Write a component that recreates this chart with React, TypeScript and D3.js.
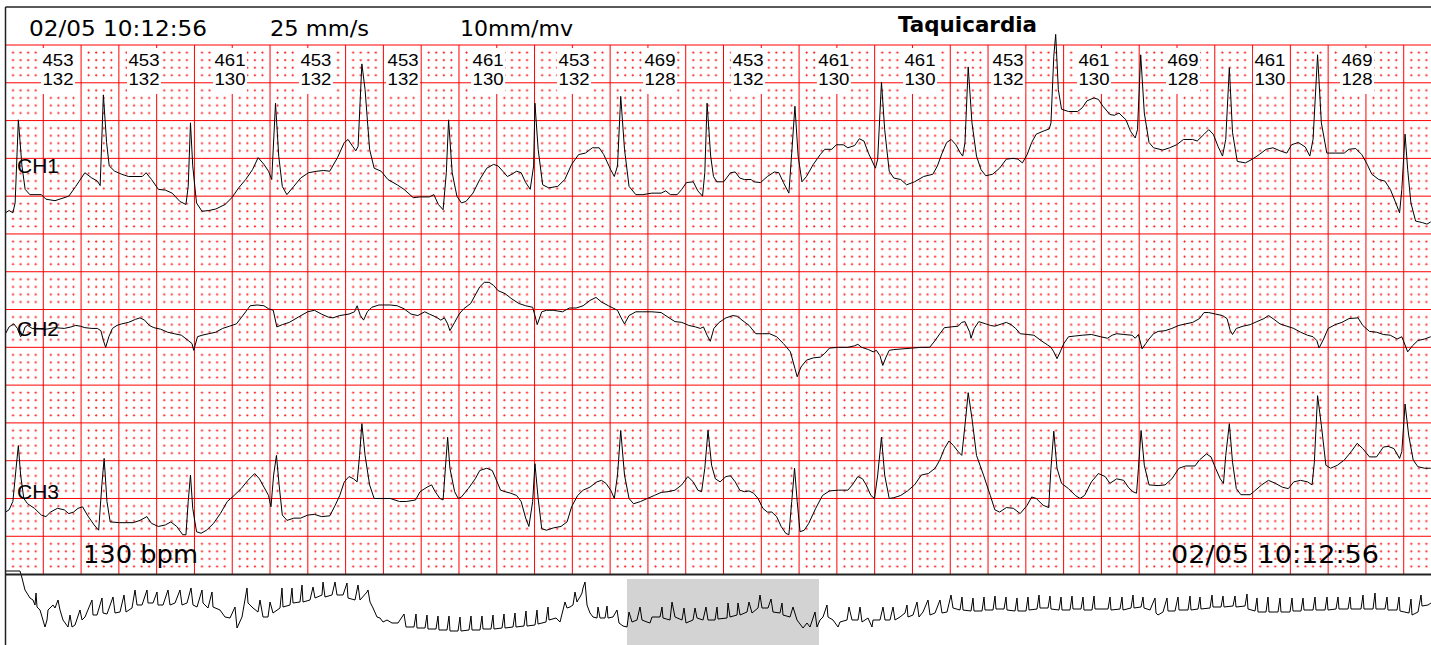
import React from 'react';
import * as d3 from 'd3';

type Pt = [number, number];

// intervalo RR (ms) y frecuencia (lpm) impresos sobre cada latido
const rrIntervals = [453, 453, 461, 453, 453, 461, 453, 469, 453, 461, 461, 453, 461, 469, 461, 469];
const heartRates = [132, 132, 130, 132, 132, 130, 132, 128, 132, 130, 130, 132, 130, 128, 130, 128];
const labelTimes = [278, 733, 1188, 1643, 2104, 2554, 3009, 3464, 3930, 4384, 4840, 5306, 5761, 6232, 6692, 7153];

// derivaciones: [ms, mV]
const ch1: Pt[] = [
  [0,-0.22],[19,-0.19],[39,-0.22],[51,-0.09],[68,1.01],[87,0.40],[104,0.09],[129,0.02],[190,0.02],[214,-0.04],[262,-0.06],[335,0],[372,0.13],[420,0.31],[457,0.24],[486,0.20],[501,0.14],[518,1.34],[535,0.71],[549,0.40],[578,0.33],[615,0.29],[651,0.26],[724,0.26],[744,0.31],[773,0.22],[809,0.09],[846,0.08],[882,0.04],[923,-0.07],[955,-0.11],[967,0.13],[979,0.97],[991,0.40],[1011,-0.09],[1040,-0.20],[1076,-0.19],[1113,-0.17],[1162,-0.11],[1198,-0.02],[1234,0.11],[1271,0.22],[1307,0.35],[1337,0.51],[1368,0.42],[1392,0.33],[1409,0.22],[1429,1.23],[1446,0.53],[1465,0.13],[1489,0.02],[1526,0.13],[1562,0.24],[1604,0.31],[1648,0.33],[1684,0.34],[1716,0.33],[1757,0.51],[1793,0.71],[1813,0.75],[1837,0.66],[1854,0.60],[1866,0.66],[1886,1.75],[1903,1.41],[1927,0.62],[1951,0.37],[1988,0.33],[2024,0.22],[2073,0.15],[2109,0.09],[2158,-0.02],[2194,-0.01],[2243,-0.01],[2267,0.02],[2291,-0.11],[2316,-0.18],[2333,0.31],[2345,1.01],[2364,0.31],[2389,0.00],[2413,-0.09],[2437,-0.07],[2474,0.04],[2510,0.22],[2547,0.37],[2583,0.42],[2607,0.40],[2632,0.33],[2656,0.26],[2680,0.29],[2705,0.33],[2729,0.31],[2753,0.18],[2777,0.09],[2795,0.40],[2802,1.23],[2819,0.62],[2843,0.15],[2875,0.11],[2923,0.13],[2960,0.22],[2996,0.42],[3033,0.55],[3069,0.57],[3106,0.64],[3142,0.64],[3166,0.55],[3203,0.35],[3222,0.26],[3239,0.40],[3256,1.32],[3276,0.62],[3300,0.13],[3336,0.02],[3373,0.02],[3421,0.04],[3470,0.04],[3494,0.07],[3519,0.02],[3555,0.02],[3579,0.09],[3604,0.18],[3640,0.19],[3664,0.07],[3689,0],[3701,0.31],[3713,1.23],[3732,0.53],
  [3747,0.26],[3764,0.19],[3801,0.19],[3837,0.31],[3862,0.32],[3886,0.24],[3910,0.22],[3947,0.22],[3959,0.19],[3996,0.18],[4032,0.26],[4069,0.32],[4093,0.31],[4117,0.18],[4146,0.04],[4161,0.57],[4178,1.19],[4195,0.53],[4215,0.19],[4239,0.26],[4275,0.42],[4312,0.55],[4336,0.62],[4373,0.62],[4397,0.68],[4434,0.68],[4458,0.64],[4494,0.67],[4519,0.76],[4543,0.73],[4567,0.57],[4604,0.37],[4616,0.49],[4636,1.51],[4653,0.88],[4677,0.33],[4701,0.24],[4738,0.22],[4769,0.15],[4811,0.19],[4859,0.26],[4908,0.29],[4932,0.40],[4957,0.57],[4981,0.71],[5005,0.75],[5030,0.68],[5054,0.57],[5066,0.53],[5078,0.71],[5095,1.71],[5115,0.97],[5139,0.53],[5163,0.35],[5188,0.27],[5224,0.29],[5261,0.37],[5297,0.49],[5334,0.50],[5358,0.49],[5382,0.44],[5407,0.55],[5431,0.71],[5455,0.82],[5492,0.86],[5524,0.89],[5533,0.97],[5548,1.85],[5558,2.14],[5572,1.41],[5589,1.15],[5626,1.12],[5674,1.12],[5699,1.17],[5723,1.26],[5760,1.30],[5784,1.28],[5808,1.19],[5845,1.08],[5869,1.07],[5893,1.10],[5930,1.01],[5954,0.86],[5979,0.77],[5991,0.88],[6008,1.87],[6027,1.10],[6052,0.71],[6076,0.64],[6125,0.61],[6161,0.64],[6198,0.68],[6234,0.75],[6283,0.75],[6307,0.73],[6344,0.82],[6368,0.88],[6392,0.82],[6417,0.66],[6441,0.53],[6458,0.75],[6477,1.70],[6494,0.84],[6519,0.46],[6562,0.44],[6599,0.49],[6635,0.55],[6672,0.62],[6708,0.64],[6745,0.60],[6781,0.57],[6806,0.68],[6842,0.71],[6879,0.65],[6903,0.53],[6920,0.75],[6944,1.87],[6964,0.97],[6993,0.57],[7037,0.57],[7085,0.57],[7110,0.62],[7146,0.63],[7178,0.55],[7207,0.42],[7231,0.29],[7268,0.22],[7300,0.20],[7329,0.09],[7358,-0.09],[7378,-0.22],[7390,0.09],[7407,0.82],[7421,0.35],[7438,-0.09],[7463,-0.33],[7499,-0.35],[7523,-0.37],[7543,-0.34],
];

const ch2: Pt[] = [
  [0,0.18],[19,0.27],[44,0.31],[63,0.25],[80,0.14],[92,0.18],[104,0.27],[117,0.29],[141,0.25],[177,0.25],[214,0.24],[262,0.26],[311,0.25],[347,0.27],[372,0.29],[396,0.28],[420,0.26],[457,0.25],[486,0.25],[505,0.22],[518,0.09],[530,0.00],[547,0.14],[566,0.25],[590,0.29],[615,0.31],[651,0.33],[688,0.37],[712,0.39],[736,0.36],[761,0.29],[785,0.26],[821,0.24],[858,0.20],[894,0.18],[931,0.16],[967,0.09],[987,0.05],[996,-0.04],[1016,0.14],[1040,0.16],[1076,0.18],[1113,0.20],[1149,0.25],[1186,0.28],[1222,0.31],[1247,0.39],[1271,0.47],[1295,0.55],[1332,0.56],[1368,0.55],[1392,0.51],[1417,0.49],[1436,0.27],[1465,0.30],[1502,0.33],[1550,0.40],[1599,0.47],[1635,0.49],[1672,0.44],[1708,0.40],[1733,0.39],[1769,0.42],[1818,0.44],[1847,0.47],[1861,0.55],[1878,0.42],[1895,0.36],[1915,0.47],[1939,0.53],[1976,0.56],[2036,0.56],[2073,0.55],[2109,0.51],[2146,0.44],[2182,0.42],[2219,0.47],[2243,0.44],[2279,0.40],[2304,0.36],[2323,0.39],[2340,0.31],[2352,0.22],[2377,0.33],[2401,0.44],[2425,0.51],[2462,0.58],[2486,0.69],[2510,0.80],[2534,0.86],[2559,0.86],[2583,0.82],[2607,0.75],[2644,0.71],[2680,0.64],[2717,0.58],[2753,0.55],[2790,0.53],[2802,0.42],[2814,0.30],[2838,0.47],[2863,0.49],[2899,0.49],[2948,0.47],[2984,0.52],[3020,0.52],[3057,0.55],[3093,0.62],[3125,0.66],[3154,0.60],[3191,0.55],[3215,0.52],[3239,0.49],[3256,0.40],[3276,0.31],[3300,0.42],[3336,0.47],[3373,0.47],[3421,0.47],[3470,0.46],[3506,0.40],[3543,0.34],[3579,0.33],[3616,0.29],[3652,0.27],[3677,0.25],[3694,0.27],[3713,0.16],[3730,0.08],[3749,0.25],
  [3777,0.33],[3813,0.39],[3850,0.42],[3874,0.41],[3898,0.36],[3935,0.29],[3971,0.18],[4008,0.18],[4044,0.18],[4081,0.14],[4117,0.05],[4154,-0.06],[4178,-0.28],[4190,-0.39],[4210,-0.26],[4239,-0.17],[4275,-0.14],[4312,-0.13],[4336,-0.08],[4361,-0.01],[4409,0],[4458,0],[4494,0.02],[4511,0.04],[4531,0],[4567,-0.03],[4592,-0.06],[4609,-0.04],[4628,-0.11],[4643,-0.24],[4660,-0.13],[4677,-0.04],[4701,-0.03],[4750,-0.02],[4799,-0.01],[4847,0],[4891,0],[4920,0.09],[4945,0.18],[4969,0.26],[5005,0.27],[5042,0.28],[5061,0.33],[5078,0.34],[5103,0.20],[5110,0.12],[5127,0.25],[5151,0.34],[5188,0.31],[5212,0.29],[5236,0.28],[5273,0.31],[5297,0.33],[5322,0.30],[5346,0.25],[5370,0.18],[5407,0.17],[5443,0.16],[5480,0.09],[5516,0.03],[5533,0],[5548,-0.06],[5565,-0.15],[5582,-0.06],[5601,0.05],[5626,0.14],[5662,0.15],[5699,0.16],[5747,0.17],[5796,0.14],[5832,0.12],[5857,0.16],[5881,0.18],[5918,0.17],[5962,0.16],[5979,0.12],[5996,0.17],[6015,-0.02],[6035,0.05],[6052,0.11],[6076,0.18],[6100,0.21],[6137,0.22],[6173,0.25],[6210,0.29],[6246,0.31],[6283,0.33],[6319,0.38],[6343,0.46],[6368,0.46],[6404,0.44],[6441,0.42],[6465,0.38],[6482,0.22],[6494,0.17],[6514,0.25],[6550,0.28],[6587,0.30],[6623,0.34],[6660,0.38],[6684,0.42],[6708,0.38],[6745,0.31],[6781,0.28],[6818,0.25],[6854,0.20],[6891,0.16],[6920,0.14],[6940,0.09],[6952,-0.01],[6976,0.11],[7000,0.25],[7037,0.30],[7073,0.33],[7110,0.38],[7158,0.39],[7183,0.29],[7219,0.21],[7256,0.20],[7292,0.17],[7329,0.16],[7365,0.11],[7390,0.14],[7407,0.03],[7421,-0.06],[7446,0.02],[7475,0.09],[7511,0.11],[7543,0.14],
];

const ch3: Pt[] = [
  [0,-0.18],[19,-0.15],[39,-0.04],[56,0.40],[68,0.70],[80,0.31],[97,0],[117,-0.07],[153,-0.13],[190,-0.22],[214,-0.24],[238,-0.18],[275,-0.13],[311,-0.15],[335,-0.20],[360,-0.18],[384,-0.13],[408,-0.11],[433,-0.22],[469,-0.35],[493,-0.42],[510,0.18],[522,0.53],[537,-0.04],[554,-0.31],[603,-0.32],[676,-0.32],[712,-0.29],[748,-0.24],[773,-0.33],[809,-0.37],[846,-0.35],[875,-0.31],[906,-0.37],[938,-0.48],[955,-0.48],[967,-0.04],[979,0.31],[991,-0.13],[1011,-0.44],[1035,-0.46],[1064,-0.42],[1101,-0.33],[1137,-0.20],[1174,-0.04],[1210,0.04],[1247,0.13],[1283,0.24],[1319,0.33],[1344,0.26],[1368,0.15],[1392,0.04],[1405,-0.11],[1419,0.31],[1434,0.57],[1448,0.18],[1465,-0.22],[1490,-0.29],[1526,-0.26],[1562,-0.26],[1599,-0.22],[1635,-0.21],[1672,-0.24],[1716,-0.23],[1745,-0.09],[1769,0.04],[1793,0.22],[1818,0.29],[1842,0.26],[1861,0.22],[1874,0.57],[1886,0.99],[1903,0.57],[1927,0.18],[1951,0],[1988,0],[2036,0],[2085,-0.04],[2121,-0.04],[2170,-0.02],[2194,0.09],[2231,0.15],[2255,0.18],[2274,0.09],[2299,0],[2316,-0.02],[2328,0.40],[2340,0.81],[2352,0.40],[2377,0.09],[2396,0],[2413,0.02],[2449,0.13],[2486,0.26],[2510,0.37],[2547,0.40],[2576,0.37],[2595,0.26],[2620,0.11],[2644,0.09],[2673,0.07],[2705,0.04],[2729,-0.04],[2753,-0.26],[2770,-0.37],[2790,-0.04],[2802,0.46],[2819,0],[2838,-0.40],[2863,-0.42],[2899,-0.39],[2940,-0.37],[2972,-0.31],[2996,-0.11],[3028,0.04],[3057,0.11],[3093,0.15],[3130,0.22],[3154,0.24],[3178,0.20],[3203,0.11],[3222,0],[3239,0.31],[3256,0.90],[3276,0.31],[3300,0],[3324,-0.07],[3361,-0.04],[3397,0],[3434,0.04],[3470,0.08],[3506,0.09],[3543,0.11],[3579,0.18],[3611,0.29],[3640,0.22],[3664,0.11],[3684,0.09],[3701,0.40],[3718,0.90],[3737,0.44],[3757,0.26],
  [3782,0.22],[3813,0.29],[3837,0.30],[3862,0.22],[3886,0.11],[3910,0.09],[3935,0.10],[3959,0.07],[3983,0],[4008,-0.13],[4032,-0.18],[4056,-0.18],[4081,-0.24],[4105,-0.37],[4129,-0.46],[4146,-0.48],[4161,-0.04],[4176,0.40],[4190,-0.04],[4205,-0.44],[4227,-0.42],[4251,-0.33],[4288,-0.13],[4324,0.04],[4361,0.10],[4409,0.11],[4458,0.11],[4482,0.18],[4511,0.29],[4536,0.26],[4555,0.18],[4580,0.04],[4599,0],[4616,0.31],[4636,0.81],[4653,0.31],[4677,0],[4701,0.01],[4738,0.04],[4774,0.10],[4811,0.18],[4847,0.31],[4884,0.33],[4920,0.40],[4945,0.51],[4969,0.66],[4993,0.76],[5017,0.70],[5042,0.62],[5061,0.57],[5078,0.97],[5095,1.40],[5115,1.06],[5139,0.57],[5176,0.31],[5212,0.04],[5236,-0.15],[5261,-0.18],[5297,-0.12],[5334,-0.13],[5370,-0.20],[5407,-0.09],[5431,0.02],[5455,0],[5492,-0.09],[5521,-0.12],[5533,0.40],[5548,0.89],[5565,0.40],[5589,0.20],[5626,0.13],[5662,0.04],[5687,0],[5711,0.04],[5747,0.22],[5784,0.33],[5820,0.29],[5845,0.20],[5881,0.26],[5918,0.24],[5942,0.15],[5966,0.09],[5986,0.07],[5996,0.40],[6010,0.90],[6027,0.44],[6052,0.18],[6100,0.17],[6137,0.18],[6173,0.26],[6210,0.40],[6246,0.43],[6295,0.43],[6319,0.51],[6356,0.59],[6380,0.55],[6404,0.40],[6429,0.26],[6446,0.20],[6458,0.57],[6477,0.99],[6494,0.48],[6514,0.13],[6538,0.05],[6587,0.05],[6611,0.10],[6648,0.18],[6684,0.24],[6721,0.20],[6757,0.15],[6789,0.13],[6818,0.22],[6854,0.24],[6891,0.22],[6915,0.18],[6927,0.48],[6944,1.36],[6964,0.97],[6988,0.44],[7013,0.40],[7049,0.44],[7086,0.51],[7122,0.62],[7154,0.73],[7183,0.66],[7219,0.55],[7256,0.55],[7292,0.68],[7317,0.69],[7348,0.66],[7378,0.53],[7390,0.62],[7407,1.25],[7426,0.84],[7450,0.51],[7475,0.42],[7511,0.40],[7543,0.40],
];

// tendencia completa (s, mV comprimido)
const overview: Pt[] = [
  [0.02,3.45],[0.58,3.45],[0.66,3.10],[0.78,2.50],[0.98,2.10],[1.10,2.00],[1.18,1.75],[1.22,2.35],[1.26,1.65],[1.38,1.50],[1.58,0.65],[1.66,1.00],[1.70,1.50],[1.78,1.60],[1.90,1.75],[1.98,1.60],[2.10,2.00],[2.18,1.50],[2.30,1.00],[2.50,0.65],[2.58,1.25],[2.66,0.65],[2.78,0.75],[2.98,1.50],[3.06,1.00],[3.18,1.15],[3.46,2.00],[3.50,1.25],[3.66,1.25],[3.86,2.10],[3.90,1.35],[4.06,1.30],[4.30,2.15],[4.38,1.35],[4.58,1.40],[4.74,2.25],[4.82,1.40],[5.06,1.60],[5.18,2.50],[5.26,1.75],[5.46,1.75],[5.66,2.50],[5.70,1.85],[5.90,1.85],[6.06,2.40],[6.10,1.75],[6.30,1.75],[6.50,2.50],[6.58,1.75],[6.78,1.85],[6.98,2.50],[7.06,1.75],[7.26,1.85],[7.42,2.60],[7.50,1.75],[7.66,1.65],[7.86,2.50],[7.90,1.85],[8.10,1.60],[8.26,2.40],[8.30,1.65],[8.58,1.50],[8.78,1.15],[8.98,1.10],[9.18,1.65],[9.26,0.60],[9.46,1.15],[9.66,2.60],[9.70,1.85],[9.90,1.60],[10.10,1.40],[10.18,2.00],[10.30,1.15],[10.50,1.15],[10.58,1.90],[10.70,1.35],[10.98,1.60],[11.06,2.60],[11.10,1.65],[11.38,1.75],[11.46,2.60],[11.50,1.85],[11.78,1.90],[11.86,2.75],[11.90,1.90],[12.18,2.00],[12.30,2.65],[12.38,2.10],[12.66,2.25],[12.70,2.90],[12.78,2.15],[13.06,2.25],[13.18,2.90],[13.26,2.25],[13.50,2.25],[13.66,2.85],[13.70,2.10],[13.98,2.00],[14.10,2.75],[14.18,2.00],[14.46,2.40],[14.50,2.50],[14.58,1.90],[14.70,1.60],[14.86,1.15],[14.98,1.10],[15.10,0.90],[15.26,1.00],[15.46,0.85],[15.70,0.85],
  [15.94,1.30],[16.02,0.65],[16.34,0.65],[16.42,1.30],[16.46,0.60],[16.78,0.60],[16.86,1.25],[16.90,0.55],[17.22,0.55],[17.30,1.20],[17.34,0.50],[17.66,0.50],[17.74,1.20],[17.78,0.45],[18.10,0.45],[18.18,1.15],[18.22,0.45],[18.54,0.50],[18.62,1.20],[18.66,0.50],[18.98,0.50],[19.06,1.20],[19.10,0.55],[19.42,0.55],[19.50,1.25],[19.54,0.55],[19.86,0.60],[19.94,1.30],[19.98,0.60],[20.30,0.65],[20.38,1.35],[20.42,0.65],[20.74,0.70],[20.82,1.45],[20.86,0.70],[21.18,0.75],[21.26,1.50],[21.30,0.80],[21.62,0.90],[21.70,1.65],[21.74,1.00],[22.02,1.10],[22.18,0.90],[22.30,1.50],[22.38,1.90],[22.46,1.60],[22.58,1.65],[22.70,1.75],[22.78,2.40],[22.86,1.90],[22.90,2.00],[22.98,2.15],[23.06,2.35],[23.10,2.60],[23.18,2.90],[23.26,1.75],[23.38,1.35],[23.50,1.15],[23.66,1.10],[23.70,1.65],[23.78,1.10],[23.98,1.10],[24.06,1.70],[24.10,1.10],[24.30,1.15],[24.46,1.50],[24.54,0.85],[24.70,0.70],[24.86,0.65],[24.94,1.40],[25.06,0.90],[25.26,1.00],[25.38,1.65],[25.46,1.00],[25.66,0.90],[25.78,0.85],[25.86,1.15],[26.18,1.15],[26.26,1.65],[26.30,1.10],[26.58,1.00],[26.66,1.90],[26.78,1.15],[27.06,1.00],[27.14,1.60],[27.22,0.85],[27.50,1.00],[27.58,1.60],[27.66,1.10],[27.90,1.00],[28.02,1.65],[28.10,1.00],[28.38,1.00],[28.46,1.65],[28.50,1.05],[28.86,1.10],[28.90,1.85],[28.98,1.15],[29.26,1.25],[29.30,1.85],[29.38,1.25],[29.66,1.40],[29.74,1.90],[29.86,1.35],[30.10,1.60],[30.18,2.25],[30.26,1.60],[30.50,1.60],[30.62,2.05],[30.70,1.40],[30.98,1.35],[31.06,1.85],[31.10,1.25],[31.38,1.15],[31.50,1.65],[31.66,1.00],[31.90,0.60],[32.06,0.85],[32.18,0.65],[32.38,1.40],[32.46,0.65],[32.58,1.00],[32.70,1.15],[32.86,1.75],[32.90,1.15],[33.10,1.00],[33.30,0.65],[33.38,0.90],[33.66,1.00],[33.74,1.65],[33.86,1.00],[34.10,1.00],[34.18,1.65],[34.26,0.90],[34.50,1.10],[34.66,0.65],[34.70,1.00],[34.98,1.00],[35.10,1.65],[35.18,1.00],[35.38,1.00],[35.50,1.65],[35.58,1.00],[35.78,1.15],[35.98,1.35],[36.06,1.75],[36.10,1.15],[36.30,1.25],[36.46,1.90],[36.54,1.15],[36.70,1.40],[36.90,2.00],[36.98,1.25],[37.18,1.35],[37.38,2.00],[37.46,1.35],[37.66,1.40],[37.82,2.25],[37.90,1.60],[38.18,1.50],
  [38.26,2.15],[38.30,1.50],[38.62,1.45],[38.70,2.10],[38.74,1.45],[39.06,1.45],[39.14,2.15],[39.18,1.50],[39.50,1.50],[39.58,2.20],[39.62,1.55],[39.94,1.55],[40.02,2.15],[40.06,1.50],[40.38,1.45],[40.46,2.10],[40.50,1.45],[40.82,1.45],[40.90,2.15],[40.94,1.50],[41.26,1.55],[41.34,2.25],[41.38,1.60],[41.70,1.60],[41.78,2.20],[41.82,1.55],[42.14,1.50],[42.22,2.15],[42.26,1.50],[42.58,1.50],[42.66,2.20],[42.70,1.55],[43.02,1.55],[43.10,2.15],[43.14,1.50],[43.46,1.50],[43.54,2.20],[43.58,1.55],[44.10,1.55],[44.18,2.15],[44.22,1.50],[44.58,1.55],[44.66,2.15],[44.70,1.50],[45.02,1.60],[45.10,2.25],[45.14,1.60],[45.42,1.65],[45.50,2.15],[45.54,1.60],[45.78,1.50],[45.98,2.10],[46.02,1.35],[46.10,1.25],[46.30,1.40],[46.46,2.10],[46.50,1.45],[46.78,1.45],[46.90,2.15],[46.94,1.50],[47.30,1.50],[47.38,2.20],[47.42,1.50],[47.70,1.55],[47.78,2.15],[47.82,1.55],[48.18,1.60],[48.26,2.25],[48.30,1.65],[48.62,1.65],[48.70,2.20],[48.74,1.65],[49.10,1.70],[49.18,2.20],[49.22,1.65],[49.58,1.70],[49.66,2.30],[49.70,1.55],[49.98,1.45],[50.06,2.10],[50.10,1.40],[50.42,1.40],[50.50,2.15],[50.54,1.40],[50.90,1.40],[50.98,2.10],[51.02,1.40],[51.38,1.40],[51.46,2.10],[51.50,1.45],[51.82,1.45],[51.90,2.10],[51.94,1.50],[52.30,1.50],[52.38,2.15],[52.42,1.50],[52.78,1.50],[52.86,2.15],[52.90,1.50],[53.22,1.55],[53.30,2.15],[53.34,1.55],[53.70,1.55],[53.78,2.15],[53.82,1.55],[54.22,1.55],[54.30,2.25],[54.34,1.55],[54.70,1.55],[54.78,2.35],[54.82,1.55],[55.18,1.55],[55.26,2.15],[55.30,1.50],[55.66,1.50],[55.74,2.15],[55.78,1.45],[56.14,1.35],[56.22,2.05],[56.26,1.25],[56.50,1.40],[56.62,2.25],[56.66,1.70],[56.90,1.75],[57.02,1.85],
];
const overviewWindow = [24.86, 32.54]; // s, tramo mostrado arriba

const W = 1431;
const H = 645;
const LEFT = 5.5;
const GRID_TOP = 45;
const MM = 7.558; // px por mm
const SPEED = 25; // mm/s
const GAIN = 10; // mm/mV
const T_END = 7544; // ms
const ROWS_MM = 70;

const channels = [
  { name: 'CH1', data: ch1, baseMm: 20, labelY: 172.5 },
  { name: 'CH2', data: ch2, baseMm: 40, labelY: 336 },
  { name: 'CH3', data: ch3, baseMm: 60, labelY: 499 },
];

export default function App() {
  const x = d3.scaleLinear().domain([0, 1000]).range([LEFT, LEFT + SPEED * MM]);
  const yMm = d3.scaleLinear().domain([0, ROWS_MM]).range([GRID_TOP, GRID_TOP + ROWS_MM * MM]);
  const gridBottom = yMm(ROWS_MM);

  const vLines = d3.range(200, T_END, 200);
  const hLines = d3.range(0, ROWS_MM, 5);

  const ovX = d3.scaleLinear().domain([0, 57.02]).range([LEFT, W]);
  const ovY = d3.scaleLinear().domain([0, 1]).range([640, 620]);
  const ovLine = d3.line<Pt>().x((d) => ovX(d[0])).y((d) => ovY(d[1]));

  const cell = 5 * MM;
  const dots = d3.range(1, 5).flatMap((i) => d3.range(1, 5).map((j) => [i * MM, j * MM]));

  return (
    <svg width={W} height={H} style={{ position: 'absolute', left: 0, top: 0, background: '#fff' }}>
      <defs>
        <pattern id="dots" patternUnits="userSpaceOnUse" x={LEFT} y={GRID_TOP} width={cell} height={cell}>
          {dots.map(([cx, cy], k) => (
            <g key={k} fill="#ff1a1a">
              <rect x={cx - 1.1} y={cy - 0.5} width={2.2} height={1} />
              <rect x={cx - 0.5} y={cy - 1.1} width={1} height={2.2} />
            </g>
          ))}
        </pattern>
      </defs>
      <rect x={0} y={0} width={W} height={H} fill="#fff" />
      <rect x={LEFT} y={GRID_TOP} width={W - LEFT} height={gridBottom - GRID_TOP} fill="url(#dots)" />

      {vLines.map((t) => (
        <line key={'v' + t} x1={x(t)} x2={x(t)} y1={GRID_TOP} y2={gridBottom} stroke="#ff0000" strokeWidth={1} />
      ))}
      {hLines.map((m) => (
        <line key={'h' + m} x1={LEFT} x2={W} y1={yMm(m)} y2={yMm(m)} stroke="#ff0000" strokeWidth={1} />
      ))}

      {labelTimes.map((t, i) => (
        <g key={'lab' + i} fontFamily="Liberation Sans, Arial, sans-serif" fontSize={17} textAnchor="middle">
          <rect x={x(t) - 17} y={48} width={34} height={46} fill="#fff" />
          <text x={x(t)} y={65.5} textLength={31} lengthAdjust="spacingAndGlyphs">{rrIntervals[i]}</text>
          <text x={x(t)} y={85} textLength={31} lengthAdjust="spacingAndGlyphs">{heartRates[i]}</text>
        </g>
      ))}

      {channels.map((c) => {
        const y = d3.scaleLinear().domain([0, 1]).range([yMm(c.baseMm), yMm(c.baseMm - GAIN)]);
        const line = d3.line<Pt>().x((d) => x(d[0])).y((d) => y(d[1]));
        return (
          <g key={c.name}>
            <path d={line(c.data) || ''} fill="none" stroke="#000" strokeWidth={1} />
            <text x={17} y={c.labelY} fontFamily="Liberation Sans, Arial, sans-serif" fontSize={21}>{c.name}</text>
          </g>
        );
      })}

      {/* encabezado */}
      <g fontFamily="DejaVu Sans, Verdana, sans-serif" fontSize={21}>
        <text x={29} y={36} textLength={178} lengthAdjust="spacingAndGlyphs">02/05 10:12:56</text>
        <text x={270} y={36} textLength={99} lengthAdjust="spacingAndGlyphs">25 mm/s</text>
        <text x={460} y={36} textLength={113} lengthAdjust="spacingAndGlyphs">10mm/mv</text>
        <text x={898} y={32} fontWeight="bold" textLength={139} lengthAdjust="spacingAndGlyphs">Taquicardia</text>
      </g>
      <g fontFamily="DejaVu Sans, Verdana, sans-serif" fontSize={25}>
        <text x={83} y={563} textLength={115} lengthAdjust="spacingAndGlyphs">130 bpm</text>
        <text x={1171} y={563} textLength={208} lengthAdjust="spacingAndGlyphs">02/05 10:12:56</text>
      </g>

      {/* tendencia */}
      <rect x={LEFT} y={gridBottom} width={W - LEFT} height={H - gridBottom} fill="#fff" />
      <rect
        x={ovX(overviewWindow[0])}
        y={579}
        width={ovX(overviewWindow[1]) - ovX(overviewWindow[0])}
        height={H - 579}
        fill="#d3d3d3"
      />
      <path d={ovLine(overview) || ''} fill="none" stroke="#000" strokeWidth={1} />

      <line x1={LEFT} x2={W} y1={7} y2={7} stroke="#222" strokeWidth={1.5} />
      <line x1={LEFT} x2={W} y1={gridBottom + 0.5} y2={gridBottom + 0.5} stroke="#222" strokeWidth={2} />
      <line x1={LEFT} x2={LEFT} y1={7} y2={H} stroke="#222" strokeWidth={1.5} />
    </svg>
  );
}
